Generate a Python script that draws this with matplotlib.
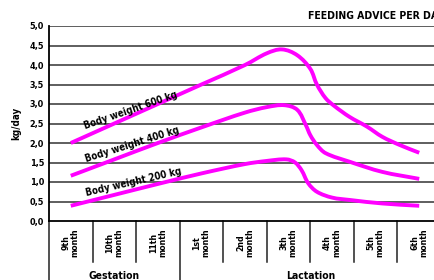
import numpy as np
import matplotlib
matplotlib.use("Agg")
import matplotlib.pyplot as plt
from matplotlib.path import Path
from matplotlib.patches import PathPatch
import matplotlib.transforms as mtransforms

plt.rcParams['font.family'] = ['DejaVu Sans']
plt.rcParams['font.stretch'] = 'condensed'
plt.rcParams['font.weight'] = 'bold'

# ---- data ----
months = ["9th\nmonth", "10th\nmonth", "11th\nmonth", "1st\nmonth", "2nd\nmonth",
          "3th\nmonth", "4th\nmonth", "5th\nmonth", "6th\nmonth"]
groups = ["Gestation", "Lactation"]
group_sizes = [3, 6]
yticks = [0.0, 0.5, 1.0, 1.5, 2.0, 2.5, 3.0, 3.5, 4.0, 4.5, 5.0]

x600 = [0, 1, 2, 3, 4, 4.5, 4.85, 5.2, 5.5, 5.65, 5.85, 6.05, 6.4, 6.8, 7.15, 7.55, 8.0]
y600 = [2.0, 2.5, 3.0, 3.5, 4.0, 4.3, 4.40, 4.25, 3.9, 3.5, 3.15, 2.95, 2.67, 2.42, 2.16, 1.95, 1.75]

x400 = [0, 1, 2, 3, 4, 4.5, 4.9, 5.2, 5.4, 5.5, 5.65, 5.85, 6.4, 7.15, 8.0]
y400 = [1.16, 1.58, 2.0, 2.40, 2.78, 2.92, 2.97, 2.85, 2.45, 2.2, 1.95, 1.74, 1.52, 1.26, 1.08]

x200 = [0, 1, 2, 3, 4, 4.5, 4.95, 5.15, 5.3, 5.45, 5.65, 6.0, 6.4, 7.15, 8.0]
y200 = [0.39, 0.67, 0.95, 1.22, 1.46, 1.54, 1.58, 1.50, 1.30, 0.97, 0.75, 0.60, 0.54, 0.45, 0.39]

labels = ["Body weight 600 kg", "Body weight 400 kg", "Body weight 200 kg"]
label_pos = [(1.40, 2.76, 19), (1.43, 1.88, 17.5), (1.47, 0.92, 13)]

title = "FEEDING ADVICE PER DAY"
ylabel = "kg/day"

LINE = "#ff00ff"

fig = plt.figure(figsize=(4.34, 2.80), dpi=100)
ax = fig.add_axes([49/434, 1 - 221/280, 392/434, 195/280])
ax.set_xlim(-0.5, len(months) - 0.5)
ax.set_ylim(0, 5.0)


def smooth_path(xs, ys, sx=43.6, sy=39.0):
    P = np.column_stack([np.asarray(xs) * sx, np.asarray(ys) * sy])
    n = len(P)
    T = np.zeros_like(P)
    for i in range(n):
        if i == 0:
            d = P[1] - P[0]
        elif i == n - 1:
            d = P[-1] - P[-2]
        else:
            d = P[i + 1] - P[i - 1]
        T[i] = d / np.linalg.norm(d)
    verts = [P[0]]
    codes = [Path.MOVETO]
    for i in range(n - 1):
        L = np.linalg.norm(P[i + 1] - P[i]) / 3.0
        verts += [P[i] + T[i] * L, P[i + 1] - T[i + 1] * L, P[i + 1]]
        codes += [Path.CURVE4] * 3
    V = np.array(verts)
    V[:, 0] /= sx
    V[:, 1] /= sy
    return Path(V, codes)


for xs, ys in [(x600, y600), (x400, y400), (x200, y200)]:
    patch = PathPatch(smooth_path(xs, ys), fill=False, edgecolor=LINE,
                      lw=2.8, capstyle='butt', zorder=5)
    ax.add_patch(patch)

for txt, (lx, ly, rot) in zip(labels, label_pos):
    ax.text(lx, ly, txt, rotation=rot, rotation_mode='anchor', ha='center',
            va='baseline', fontsize=7, fontweight='bold', color='black', zorder=6)

# grid
for v in yticks[1:]:
    ax.axhline(v, color='#333333', lw=1.1, zorder=1)

for s in ['top', 'right']:
    ax.spines[s].set_visible(False)
ax.spines['left'].set_linewidth(1.3)
ax.spines['bottom'].set_linewidth(1.3)

ax.set_yticks(yticks)
ax.set_yticklabels([f"{v:.1f}".replace('.', ',') for v in yticks], fontsize=6.5,
                   fontweight='bold')
ax.tick_params(axis='y', length=0, pad=3.5)
ax.set_xticks([])

ax.set_ylabel(ylabel, fontsize=7, fontweight='bold', labelpad=6)

# category labels and separators
trans = mtransforms.blended_transform_factory(ax.transData, ax.transAxes)
for i, m in enumerate(months):
    ax.text(i, -0.113, m, rotation=90, ha='center', va='center', multialignment='center',
            fontsize=6.3, fontweight='bold', transform=trans, linespacing=1.0)

bounds = [0]
for g in group_sizes:
    bounds.append(bounds[-1] + g)
for b in range(len(months) + 1):
    bottom = -0.31 if b in bounds else -0.21
    ax.plot([b - 0.5, b - 0.5], [0, bottom], color='#222222', lw=1.1,
            transform=trans, clip_on=False)

start = 0
for g, n in zip(groups, group_sizes):
    cx = start + n / 2 - 0.5
    ax.text(cx, -0.282, g, ha='center', va='center', fontsize=7.5, fontweight='bold',
            transform=trans)
    start += n

fig.text(308/434, 1 - 16/280, title, ha='left', va='center', fontsize=7.5,
         fontweight='bold')

fig.savefig("out.png", dpi=100)
